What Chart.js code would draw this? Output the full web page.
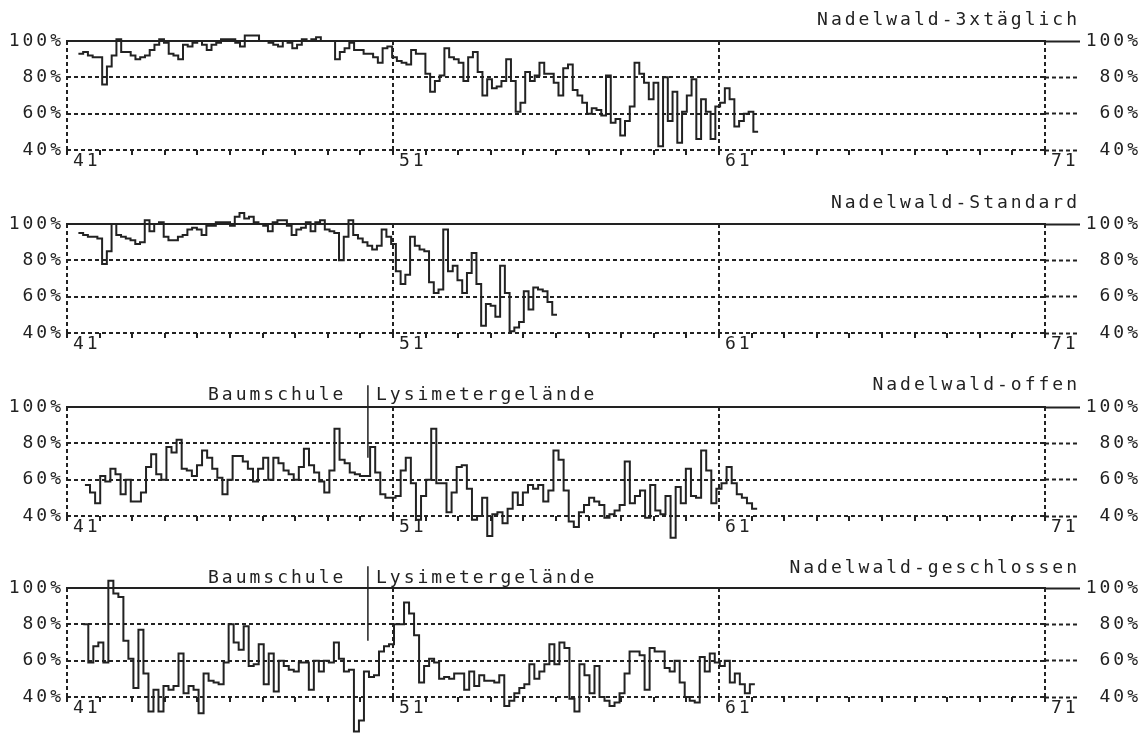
<!DOCTYPE html>
<html>
<head>
<meta charset="utf-8">
<script src="https://cdn.jsdelivr.net/npm/chart.js@4.4.0/dist/chart.umd.min.js"></script>
<style>
  body { margin: 0; background: #fff; }
  #wrap { position: relative; width: 1141px; height: 734px; overflow: hidden; background: #fff; }
  canvas { position: absolute; left: 0; }
  .txt { position: absolute; font-family: 'DejaVu Sans Mono', monospace; font-size: 18px; line-height: 18px;
         letter-spacing: 3px; color: #222; white-space: nowrap; }
</style>
</head>
<body>
<div id="wrap">
  <canvas id="p0" width="1141" height="183" style="top:0px"></canvas>
  <canvas id="p1" width="1141" height="183" style="top:183px"></canvas>
  <canvas id="p2" width="1141" height="183" style="top:366px"></canvas>
  <canvas id="p3" width="1141" height="187" style="top:547px"></canvas>

  <div class="txt" style="top:10px; right:61px">Nadelwald-3xtäglich</div>
  <div class="txt" style="top:193px; right:61px">Nadelwald-Standard</div>
  <div class="txt" style="top:375px; right:61px">Nadelwald-offen</div>
  <div class="txt" style="top:558px; right:61px">Nadelwald-geschlossen</div>

  <div class="txt" style="top:385px; left:208px">Baumschule</div>
  <div class="txt" style="top:385px; left:376px">Lysimetergelände</div>
  <div class="txt" style="top:568px; left:208px">Baumschule</div>
  <div class="txt" style="top:568px; left:376px">Lysimetergelände</div>
</div>

<script>
// week range of each series (first and last day)
var firstWeek = [41.35, 41.35, 41.55, 41.5];
var lastWeek = [62.2, 56.03, 62.17, 62.1];
var labelWeeks = [41, 51, 61, 71];

// relative values in %, one per day
var dreimal = [93,94,92,91,91,76,86,92,101,94, 94,92,90,91,92,95,98,101,99,93,
  92,90,98,97,99,100,98,95,98,99, 101,101,101,99,97,103,103,103,100,100,
  99,98,97,100,99,96,98,101,100,101, 102,100,100,100,90,94,96,99,95,95,
  93,93,91,88,96,97,91,89,88,87, 95,93,93,82,72,78,81,96,91,90,
  88,78,91,94,83,70,79,74,75,78, 90,78,61,66,83,78,81,88,82,82,
  77,70,85,87,73,70,66,60,63,62, 59,81,55,57,48,56,64,88,82,77,
  68,77,42,80,56,72,44,61,70,79, 46,68,61,46,64,66,74,68,53,56,
  60,61,50];

var standard = [95,94,93,93,92,78,85,100,94,93, 92,91,89,90,102,96,100,101,93,91,
  91,93,94,97,98,97,94,99,99,101, 101,101,99,104,106,103,104,101,100,99,
  96,101,102,102,99,94,97,98,101,96, 101,102,97,96,95,80,93,102,94,92,
  90,88,86,88,97,93,89,74,67,72, 93,88,86,85,68,62,64,97,74,77,
  69,62,73,84,67,44,56,55,49,77, 62,41,43,46,63,53,65,64,63,57,
  50];

var offen = [57,53,47,62,59,66,63,52,60,48, 48,53,67,74,63,60,78,75,82,66,
  65,62,68,76,72,66,61,52,60,73, 73,70,66,59,66,72,60,72,69,65,
  63,60,67,77,68,64,59,53,65,88, 71,69,64,63,62,62,78,64,52,50,
  50,51,65,72,58,38,51,60,88,58, 58,42,53,67,68,55,38,40,50,29,
  41,42,36,44,53,46,53,57,55,57, 48,54,76,71,54,37,34,42,46,50,
  48,46,39,41,43,46,70,47,51,54, 39,57,43,41,51,28,56,47,66,51,
  50,76,65,47,55,58,67,58,52,50, 47,44];

var geschlossen = [80,59,68,70,59,104,97,95,71,61, 45,77,53,32,44,32,46,44,46,64,
  42,46,44,31,53,49,48,47,59,80, 70,66,79,57,58,69,47,64,43,60,
  57,55,54,59,59,44,60,54,60,59, 70,61,54,55,21,27,54,51,52,65,
  68,69,80,80,92,86,74,48,57,61, 59,50,51,50,53,53,44,54,46,52,
  49,49,48,52,35,38,42,45,47,58, 50,54,58,69,58,70,67,39,32,58,
  52,42,57,40,38,35,37,42,53,65, 65,63,44,67,65,65,56,54,60,48,
  40,38,37,62,54,64,59,57,60,48, 53,47,42,47];

// Baumschule -> Lysimetergelände (week, top %, bottom %)
var umzugWeek = 50.23;
var umzugFrom = [112, 112];
var umzugTo = [72, 71];

var ink = '#222';
var dash = [4, 3];

function steps(vals, a, b) {
  var dx = (b - a) / vals.length;
  var pts = vals.map(function (v, i) { return { x: a + i * dx, y: v }; });
  pts.push({ x: b, y: vals[vals.length - 1] });
  return pts;
}

var letterSpacing = {
  id: 'letterSpacing',
  beforeDraw: function (chart) { chart.ctx.letterSpacing = '3px'; }
};

var font = { family: "'DejaVu Sans Mono', monospace", size: 18 };

function panel(id, vals, n, marker) {
  var h = document.getElementById(id).height;
  var sets = [{
    data: steps(vals, firstWeek[n], lastWeek[n]),
    stepped: true,
    borderColor: ink,
    borderWidth: 2,
    pointRadius: 0,
    clip: false
  }];
  if (marker) {
    sets.push({
      data: [{ x: umzugWeek, y: umzugFrom[marker - 1] }, { x: umzugWeek, y: umzugTo[marker - 1] }],
      borderColor: ink,
      borderWidth: 1.5,
      pointRadius: 0,
      clip: false
    });
  }
  return new Chart(document.getElementById(id), {
    type: 'line',
    data: { datasets: sets },
    plugins: [letterSpacing],
    options: {
      responsive: false,
      animation: false,
      events: [],
      layout: { padding: { top: 41, left: 0, right: 0, bottom: 0 } },
      plugins: { legend: { display: false }, tooltip: { enabled: false } },
      scales: {
        x: {
          type: 'linear', position: 'bottom', min: 41, max: 71,
          afterFit: function (s) { s.height = h - 41 - 109; },
          border: { display: false, dash: dash },
          grid: {
            lineWidth: 2,
            color: function (c) { return c.tick && labelWeeks.indexOf(c.tick.value) >= 0 ? ink : 'rgba(0,0,0,0)'; },
            tickColor: ink, tickLength: 5, tickWidth: 2, tickBorderDash: []
          },
          ticks: {
            stepSize: 1, autoSkip: false, maxRotation: 0, align: 'start', labelOffset: 6, padding: -4,
            color: ink, font: font,
            callback: function (v) { return labelWeeks.indexOf(v) >= 0 ? String(v) : ''; }
          }
        },
        top: {
          type: 'linear', position: 'top', min: 41, max: 71,
          afterFit: function (s) { s.height = 0; },
          border: { display: true, color: ink, width: 2 },
          grid: { display: false },
          ticks: { display: false }
        },
        y: {
          position: 'left', min: 40, max: 100,
          afterFit: function (s) { s.width = 67; },
          border: { display: false, dash: dash },
          grid: {
            lineWidth: 2, drawTicks: false,
            color: function (c) { return c.tick && c.tick.value === 100 ? 'rgba(0,0,0,0)' : ink; }
          },
          ticks: {
            stepSize: 20, padding: 3, color: ink, font: font,
            callback: function (v) { return v + '%'; }
          }
        },
        y2: {
          position: 'right', min: 40, max: 100,
          afterFit: function (s) { s.width = 96; },
          border: { display: false },
          grid: {
            drawOnChartArea: false, color: ink, tickColor: ink, tickLength: 35, tickWidth: 2,
            tickBorderDash: function (c) { return c.tick && c.tick.value === 100 ? [] : dash; }
          },
          ticks: {
            stepSize: 20, padding: 0, crossAlign: 'far', color: ink, font: font,
            callback: function (v) { return v + '%'; }
          }
        }
      }
    }
  });
}

panel('p0', dreimal, 0, 0);
panel('p1', standard, 1, 0);
panel('p2', offen, 2, 1);
panel('p3', geschlossen, 3, 2);
</script>
</body>
</html>
